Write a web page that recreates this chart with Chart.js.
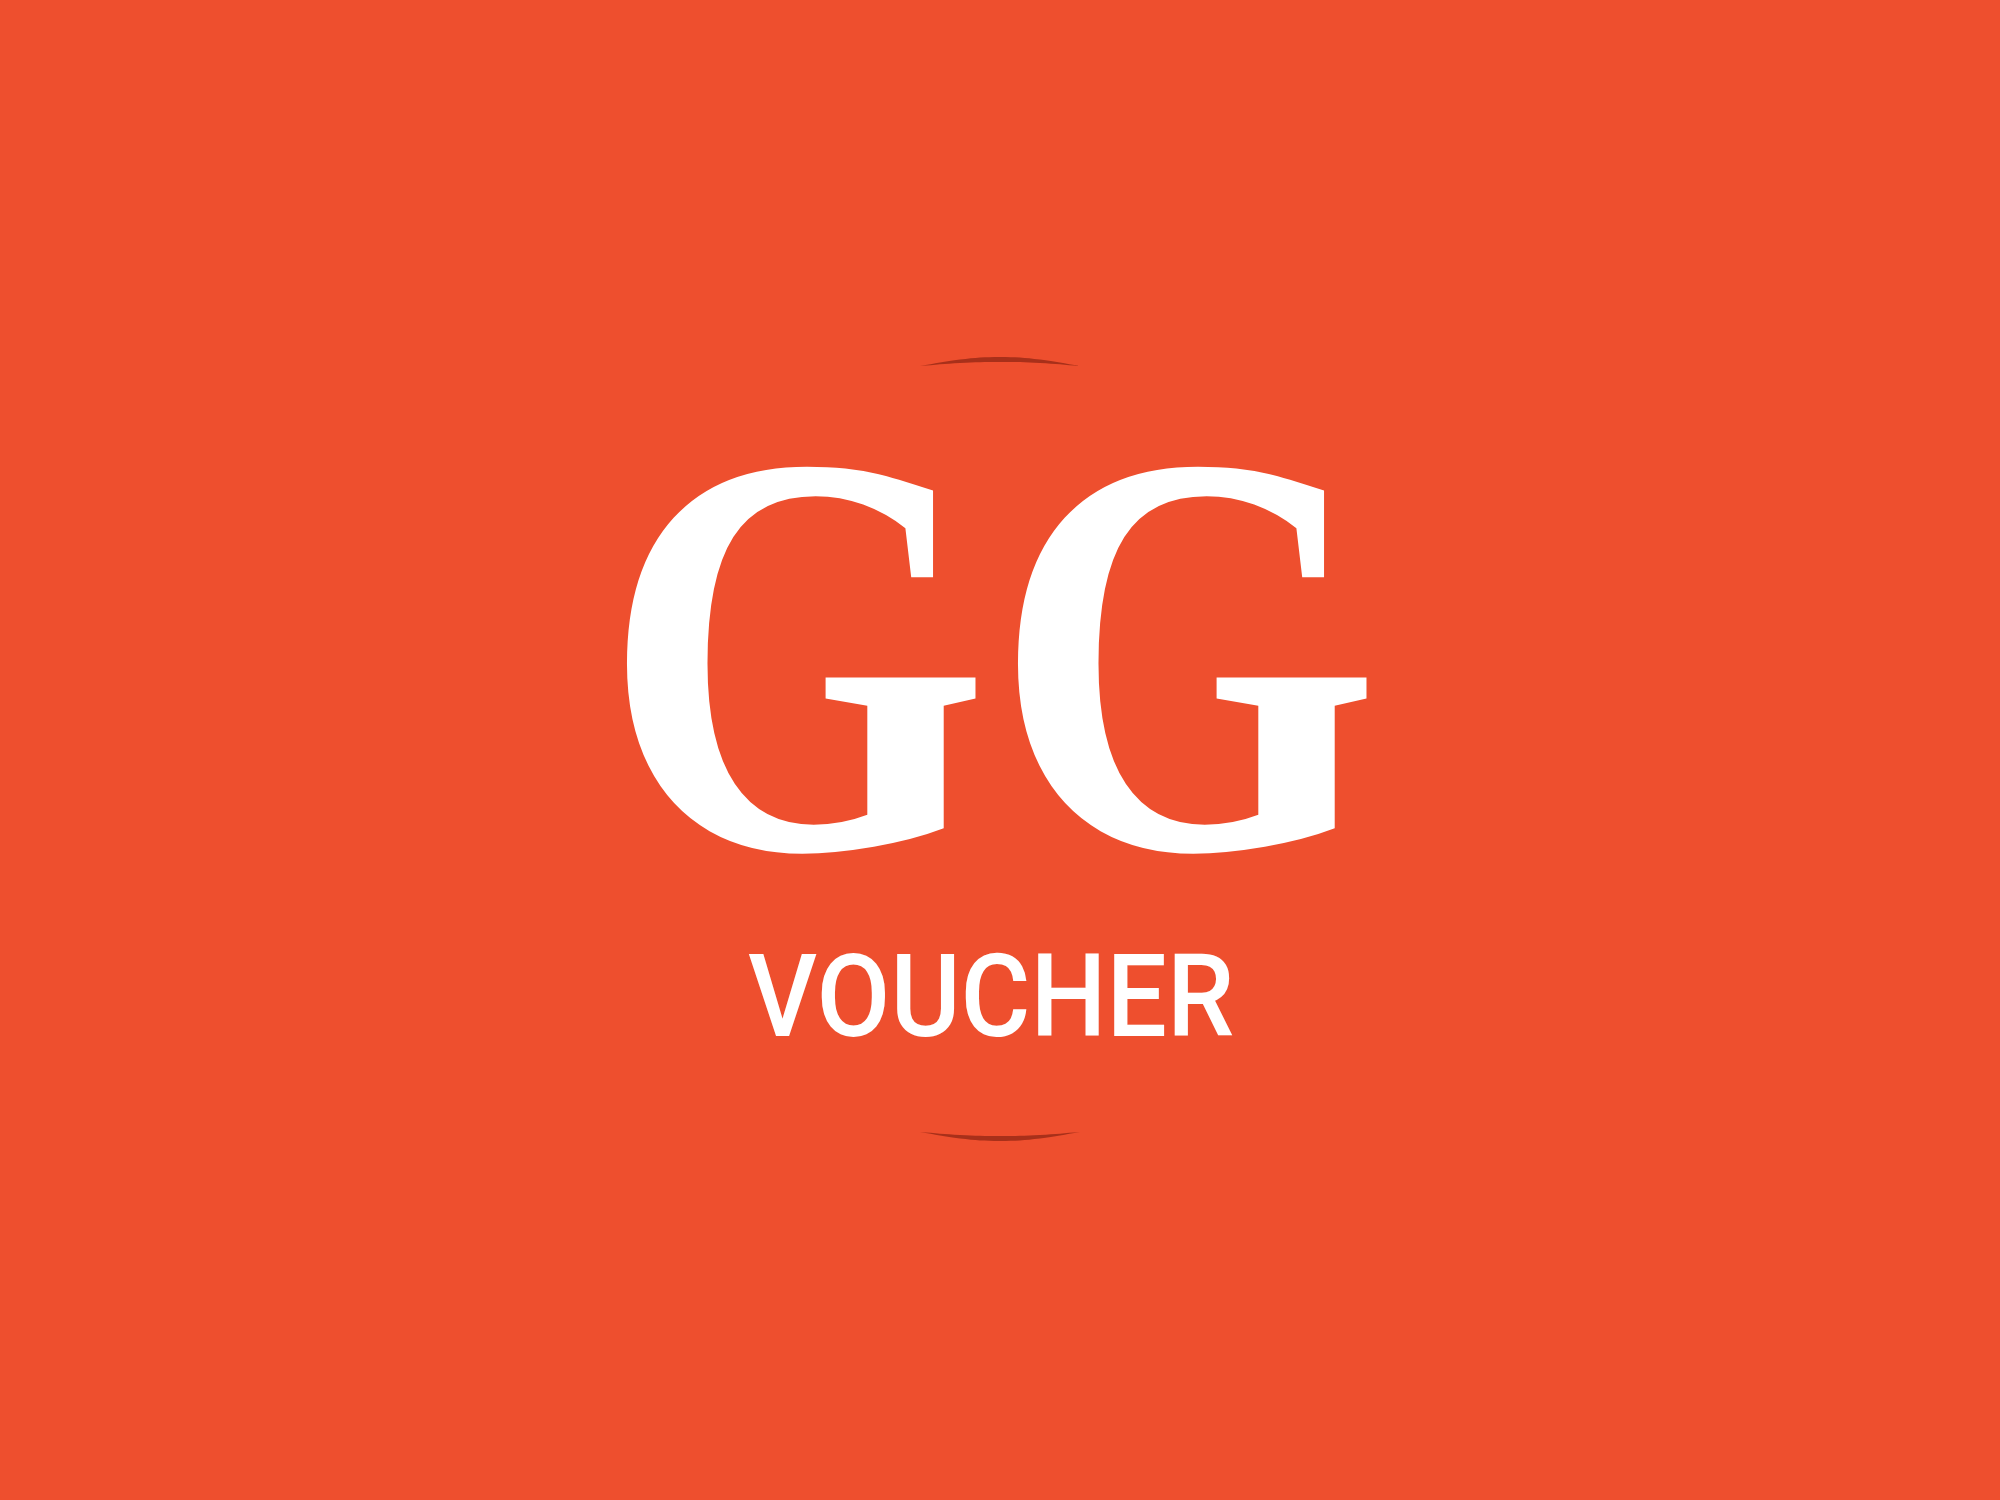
<!DOCTYPE html>
<html>
<head>
<meta charset="utf-8">
<title>GG Voucher</title>
<script src="https://cdn.jsdelivr.net/npm/chart.js@4.4.1/dist/chart.umd.min.js"></script>
<style>
  html, body { margin: 0; padding: 0; background: #EE4F2E; }
  canvas { display: block; }
</style>
</head>
<body>
<canvas id="voucher" width="2000" height="1500"></canvas>
<script>
// page coordinates run 0..2000 across and 0..1500 down
const arcX = [920, 960, 1000, 1040, 1080];
const topArcOuter = [366, 359.5, 357, 359.5, 366];
const topArcInner = [366, 363, 362, 363, 366];
const bottomArcOuter = [1132, 1138.5, 1141, 1138.5, 1132];
const bottomArcInner = [1132, 1135, 1136, 1135, 1132];

// text boxes: [left, top, right, bottom]
const letters = ['G', 'G'];
const letterBoxes = [[626, 461, 983, 857], [1017, 461, 1374, 857]];
const caption = 'VOUCHER';
const captionBox = [749, 952, 1233, 1037];

const BG = '#EE4F2E';
const ARC = '#A8301A';

function pts(xs, ys) {
  return xs.map((x, i) => ({ x: x, y: ys[i] }));
}

function arcSet(ys, fill) {
  return {
    data: pts(arcX, ys),
    showLine: true,
    borderWidth: 0,
    borderColor: ARC,
    backgroundColor: ARC,
    pointRadius: 0,
    tension: 0.4,
    fill: fill
  };
}

// fit a string's ink box into a box given in scale units
function drawFitted(chart, text, font, box) {
  const ctx = chart.ctx;
  const sx = chart.scales.x, sy = chart.scales.y;
  const left = sx.getPixelForValue(box[0]);
  const right = sx.getPixelForValue(box[2]);
  const top = sy.getPixelForValue(box[1]);
  const bottom = sy.getPixelForValue(box[3]);

  ctx.save();
  ctx.font = font;
  ctx.textBaseline = 'alphabetic';
  ctx.textAlign = 'left';
  const m = ctx.measureText(text);
  const w = m.actualBoundingBoxLeft + m.actualBoundingBoxRight;
  const h = m.actualBoundingBoxAscent + m.actualBoundingBoxDescent;
  const kx = (right - left) / w;
  const ky = (bottom - top) / h;
  ctx.translate(left, top);
  ctx.scale(kx, ky);
  ctx.fillStyle = '#FFFFFF';
  ctx.fillText(text, m.actualBoundingBoxLeft, m.actualBoundingBoxAscent);
  ctx.restore();
}

const backdrop = {
  id: 'backdrop',
  beforeDraw(chart) {
    const ctx = chart.ctx;
    ctx.save();
    ctx.fillStyle = BG;
    ctx.fillRect(0, 0, chart.width, chart.height);
    ctx.restore();
  }
};

const lettering = {
  id: 'lettering',
  afterDraw(chart) {
    letters.forEach((ch, i) => {
      drawFitted(chart, ch, 'bold 500px "Liberation Serif"', letterBoxes[i]);
    });
    drawFitted(chart, caption, '500 120px Roboto', captionBox);
  }
};

new Chart(document.getElementById('voucher'), {
  type: 'scatter',
  data: {
    datasets: [
      arcSet(topArcInner, false),
      arcSet(topArcOuter, '-1'),
      arcSet(bottomArcInner, false),
      arcSet(bottomArcOuter, '-1')
    ]
  },
  options: {
    responsive: false,
    devicePixelRatio: 1,
    animation: false,
    layout: { padding: 0 },
    plugins: {
      legend: { display: false },
      tooltip: { enabled: false }
    },
    scales: {
      x: { type: 'linear', min: 0, max: 2000, display: false },
      y: { type: 'linear', min: 0, max: 1500, reverse: true, display: false }
    }
  },
  plugins: [backdrop, lettering]
});
</script>
</body>
</html>
